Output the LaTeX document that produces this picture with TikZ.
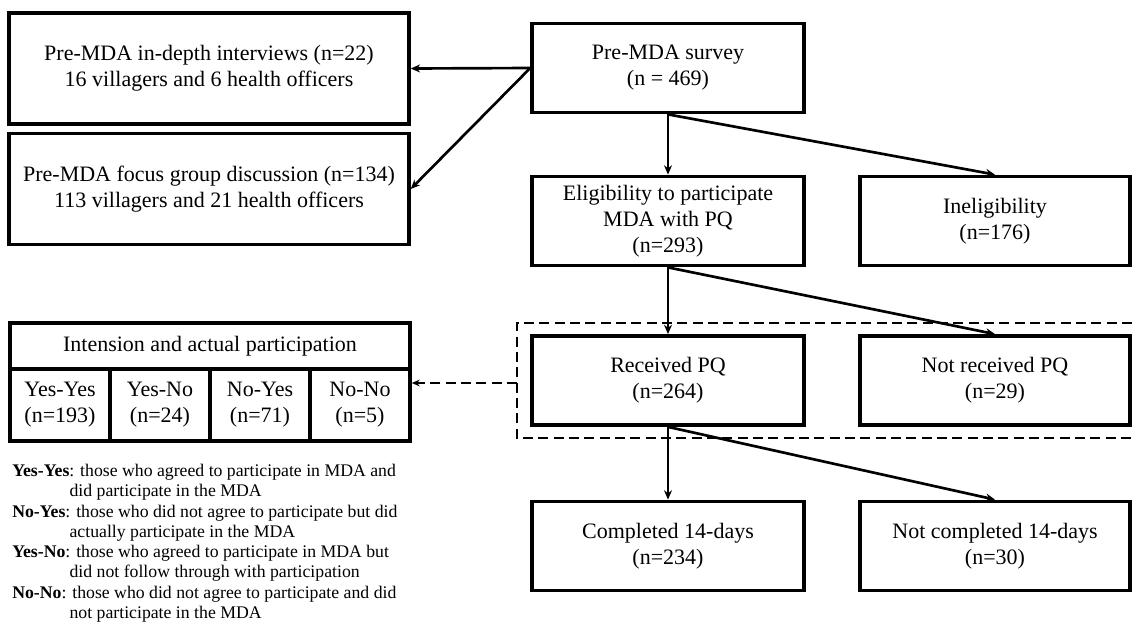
\documentclass[tikz,border=0pt]{standalone}
\usepackage{fontspec}
\setmainfont{Liberation Serif}
\usetikzlibrary{arrows.meta, positioning}

\begin{document}
\begin{tikzpicture}[x=0.75pt, y=-0.75pt,
  flowbox/.style={draw, line width=2.6pt, align=center, inner sep=0pt, font=\fontsize{16.5}{19.5}\selectfont},
  leftbox/.style={flowbox, minimum width=300pt, minimum height=83pt},
  midbox/.style={flowbox, minimum width=204pt, minimum height=67pt},
  sidebox/.style={flowbox, minimum width=202.5pt, minimum height=67pt},
  tcell/.style={flowbox, minimum width=75pt, minimum height=54pt},
  arr/.style={-{Stealth[length=7pt, width=6pt]}, line width=2pt},
  dline/.style={line width=1.4pt, dash pattern=on 7.5pt off 4pt},
  darr/.style={dline, -{Stealth[length=6pt, width=5pt]}}
]
  \useasboundingbox (0,0) rectangle (1132,626);

  % qualitative arm
  \node[leftbox] (intv) at (209,68.5) {Pre-MDA in-depth interviews (n=22)\\16 villagers and 6 health officers};
  \node[leftbox] (fgd) at (209,189) {Pre-MDA focus group discussion (n=134)\\113 villagers and 21 health officers};

  % survey arm
  \node[midbox] (survey) at (668,68) {Pre-MDA survey\\(n = 469)};
  \node[midbox] (elig) at (668,221) {Eligibility to participate\\MDA with PQ\\(n=293)};
  \node[sidebox] (inelig) at (995,221) {Ineligibility\\(n=176)};
  \node[midbox] (recv) at (668,380.5) {Received PQ\\(n=264)};
  \node[sidebox] (notrecv) at (995,380.5) {Not received PQ\\(n=29)};
  \node[midbox] (compl) at (668,546) {Completed 14-days\\(n=234)};
  \node[sidebox] (notcompl) at (995,546) {Not completed 14-days\\(n=30)};

  % intention table
  \node[flowbox, minimum width=300pt, minimum height=34.5pt] (tabhead) at (210,346) {Intension and actual participation};
  \node[tcell] (yy) at (60,405) {Yes-Yes\\(n=193)};
  \node[tcell] (yn) at (160,405) {Yes-No\\(n=24)};
  \node[tcell] (ny) at (260,405) {No-Yes\\(n=71)};
  \node[tcell] (nn) at (360,405) {No-No\\(n=5)};

  % dashed frame round the PQ boxes
  \draw[dline] (1132,323) -- (517,323) -- (517,438) -- (1132,438);
  \coordinate (framew) at (517,383);

  \draw[arr] (survey.west) -- (intv.east);
  \draw[arr] (survey.west) -- (fgd.east);
  \draw[arr] (survey.south) -- (elig.north);
  \draw[arr] (survey.south) -- (inelig.north);
  \draw[arr] (elig.south) -- (recv.north);
  \draw[arr] (elig.south) -- (notrecv.north);
  \draw[arr] (recv.south) -- (compl.north);
  \draw[arr] (recv.south) -- (notcompl.north);
  \draw[darr] (framew) -- (framew -| nn.east);

  % legend
  \node[anchor=north west, align=left, inner sep=0pt, font=\fontsize{13.3}{15.2}\selectfont] (notes) at (12,464) {%
    \textbf{Yes-Yes}: those who agreed to participate in MDA and\\
    \hspace*{43pt}did participate in the MDA\\
    \textbf{No-Yes}: those who did not agree to participate but did\\
    \hspace*{43pt}actually participate in the MDA\\
    \textbf{Yes-No}: those who agreed to participate in MDA but\\
    \hspace*{43pt}did not follow through with participation\\
    \textbf{No-No}: those who did not agree to participate and did\\
    \hspace*{43pt}not participate in the MDA};
\end{tikzpicture}
\end{document}
